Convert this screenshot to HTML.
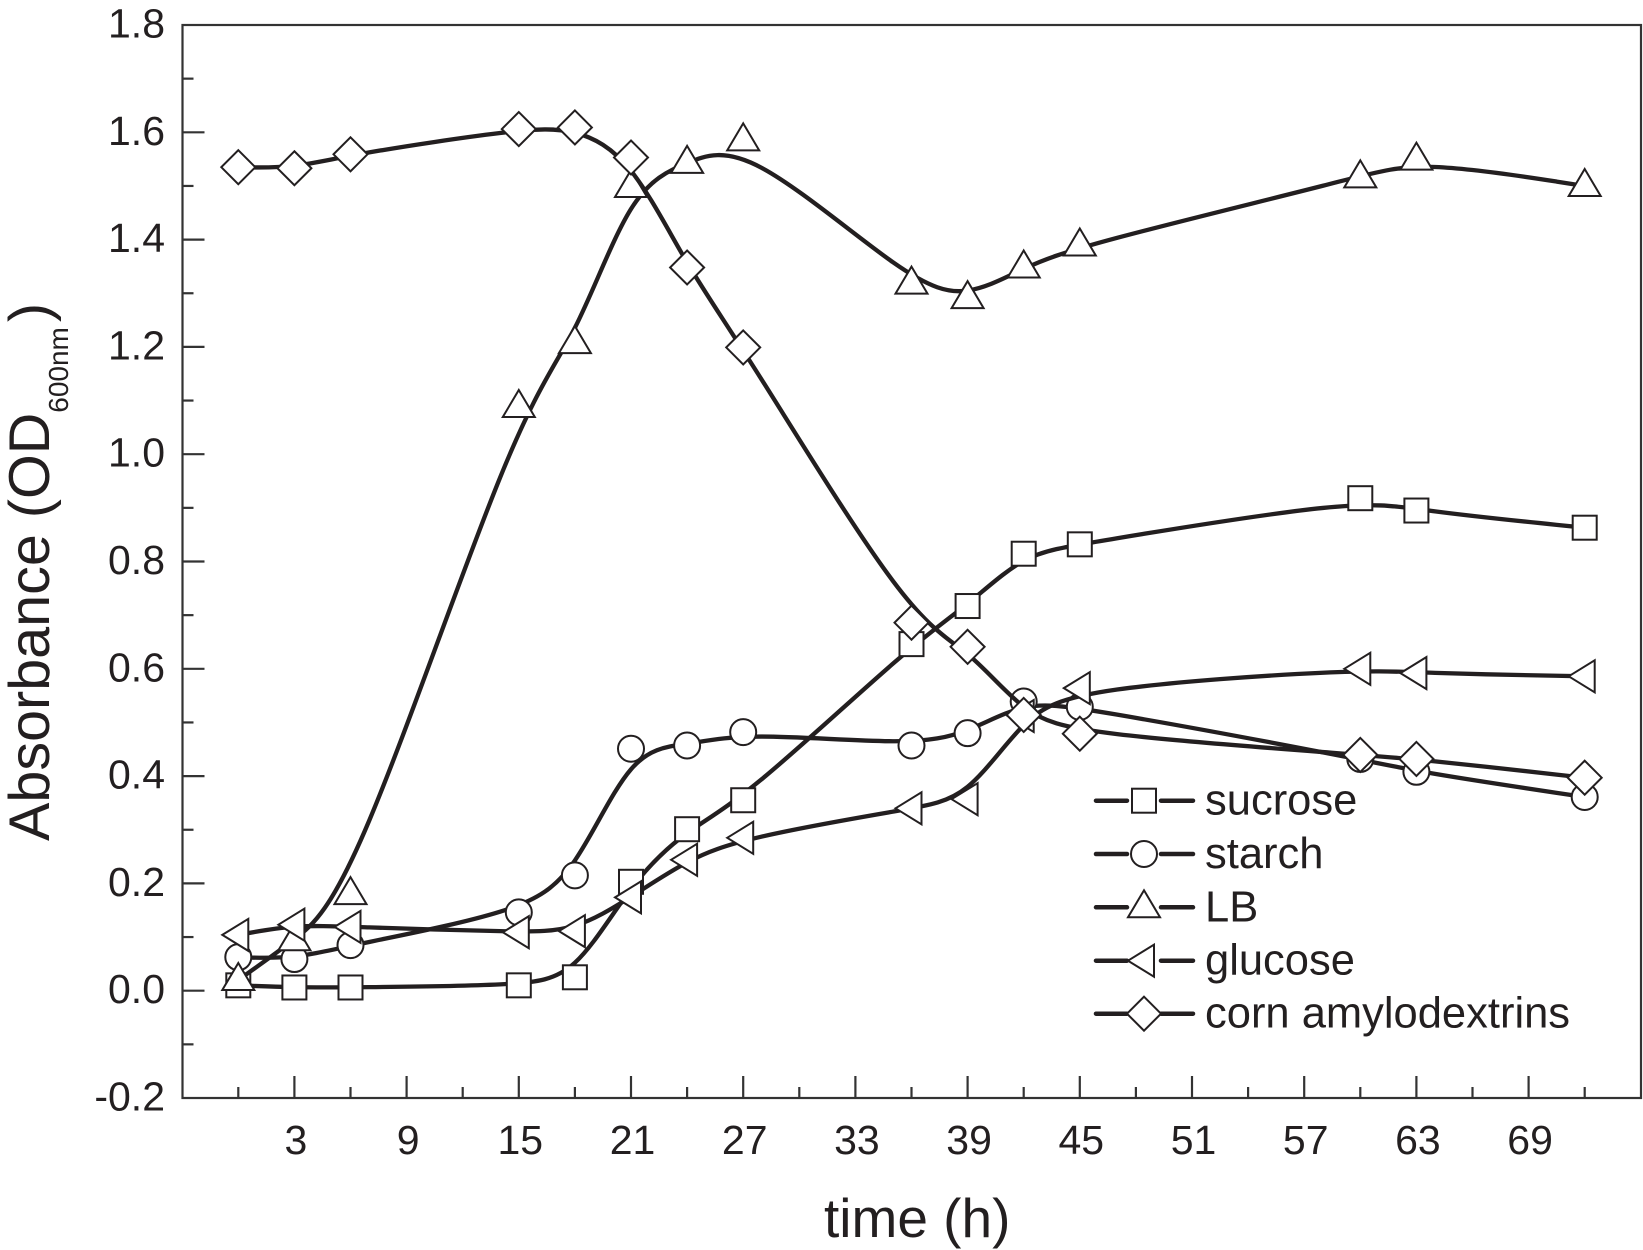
<!DOCTYPE html>
<html lang="en">
<head>
<meta charset="utf-8">
<title>Absorbance over time</title>
<style>
html,body{margin:0;padding:0;background:#fff;}
svg{display:block;}
text{font-family:"Liberation Sans",Arial,sans-serif;fill:#231f20;}
</style>
</head>
<body>
<svg id="chart" xmlns="http://www.w3.org/2000/svg" width="1643" height="1250" viewBox="0 0 1643 1250">
  <rect x="182.5" y="25" width="1458.5" height="1073" fill="none" stroke="#333" stroke-width="2.2"/>
  <g id="axes"></g>
  <g id="series"></g>
  <g id="legend"></g>
  <text x="824" y="1237" font-size="55">time (h)</text>
  <text transform="translate(49,841) rotate(-90)" font-size="57.5">Absorbance (OD<tspan font-size="28" dy="19">600nm</tspan><tspan dy="-19" dx="5">)</tspan></text>
</svg>
<script>
const times = [0, 3, 6, 15, 18, 21, 24, 27, 36, 39, 42, 45, 60, 63, 72];
const sucrose = [0.01, 0.006, 0.006, 0.01, 0.025, 0.203, 0.301, 0.355, 0.646, 0.717, 0.8145, 0.832, 0.918, 0.895, 0.863];
const starch = [0.0625, 0.059, 0.085, 0.146, 0.215, 0.451, 0.457, 0.482, 0.457, 0.48, 0.539, 0.529, 0.432, 0.408, 0.361];
const lb = [0.02, 0.094, 0.18, 1.088, 1.207, 1.498, 1.543, 1.585, 1.318, 1.291, 1.348, 1.389, 1.516, 1.549, 1.5];
const glucose = [0.104, 0.123, 0.119, 0.109, 0.111, 0.174, 0.244, 0.285, 0.34, 0.357, 0.512, 0.564, 0.6, 0.592, 0.586];
const cornAmylodextrins = [1.535, 1.533, 1.559, 1.606, 1.609, 1.553, 1.348, 1.199, 0.686, 0.641, 0.514, 0.479, 0.4395, 0.432, 0.397];
const seriesNames = ["sucrose", "starch", "LB", "glucose", "corn amylodextrins"];
const yTickLabels = ["-0.2", "0.0", "0.2", "0.4", "0.6", "0.8", "1.0", "1.2", "1.4", "1.6", "1.8"];
const xTickLabels = ["3", "9", "15", "21", "27", "33", "39", "45", "51", "57", "63", "69"];
const yMinorTicks = [-0.1, 0.1, 0.3, 0.5, 0.7, 0.9, 1.1, 1.3, 1.5, 1.7];
const xMinorTicks = [0, 6, 12, 18, 24, 30, 36, 42, 48, 54, 60, 66, 72];

const NS = "http://www.w3.org/2000/svg";
const INK = "#231f20";
const xScale = t => 238.3 + t * 18.7;
const yScale = v => 990.7 - v * 536.5;

function make(tag, attrs, parent) {
  const el = document.createElementNS(NS, tag);
  for (const k in attrs) el.setAttribute(k, attrs[k]);
  parent.appendChild(el);
  return el;
}

const axes = document.getElementById("axes");
yTickLabels.forEach(label => {
  const v = parseFloat(label);
  const y = yScale(v);
  if (v > -0.2 && v < 1.8) {
    const tick = make("line", {x1: 182.5, x2: 204.5, y1: y, y2: y, stroke: "#333", "stroke-width": 2.2}, axes);
    
    
  }
  const txt = make("text", {x: 165, y: y + 12.5, "text-anchor": "end", "font-size": 41}, axes);
  
  
  txt.textContent = label;
});
yMinorTicks.forEach(v => {
  const y = yScale(v);
  const tick = make("line", {x1: 182.5, x2: 193.5, y1: y, y2: y, stroke: "#333", "stroke-width": 2.2}, axes);
  
  
});
xTickLabels.forEach(label => {
  const x = xScale(parseFloat(label));
  const tick = make("line", {x1: x, x2: x, y1: 1098, y2: 1076, stroke: "#333", "stroke-width": 2.2}, axes);
  
  
  const txt = make("text", {x: x + 1.5, y: 1154, "text-anchor": "middle", "font-size": 41}, axes);
  
  
  txt.textContent = label;
});
xMinorTicks.forEach(t => {
  const x = xScale(t);
  const tick = make("line", {x1: x, x2: x, y1: 1098, y2: 1087, stroke: "#333", "stroke-width": 2.2}, axes);
  
  
});

function marker(kind, x, y, parent) {
  const s = {fill: "#fff", stroke: INK, "stroke-width": 2, "stroke-linejoin": "miter"};
  if (kind === "square") return make("rect", {...s, x: x - 12, y: y - 12, width: 24, height: 24}, parent);
  if (kind === "circle") return make("circle", {...s, cx: x, cy: y, r: 13}, parent);
  if (kind === "up") return make("polygon", {...s, points: `${x},${y - 17} ${x + 16},${y + 10} ${x - 16},${y + 10}`}, parent);
  if (kind === "left") return make("polygon", {...s, points: `${x - 16},${y} ${x + 10},${y - 16} ${x + 10},${y + 16}`}, parent);
  return make("polygon", {...s, points: `${x},${y - 17} ${x + 17},${y} ${x},${y + 17} ${x - 17},${y}`}, parent);
}

/* uniform cubic B-spline through the data as control points, clamped at both ends */
function splinePath(xs, ys) {
  const px = [xs[0], xs[0], ...xs, xs[xs.length - 1], xs[xs.length - 1]];
  const py = [ys[0], ys[0], ...ys, ys[ys.length - 1], ys[ys.length - 1]];
  let d = `M${xScale(xs[0]).toFixed(2)} ${yScale(ys[0]).toFixed(2)}`;
  for (let i = 1; i < px.length - 2; i++) {
    const c1x = (2 * px[i] + px[i + 1]) / 3, c1y = (2 * py[i] + py[i + 1]) / 3;
    const c2x = (px[i] + 2 * px[i + 1]) / 3, c2y = (py[i] + 2 * py[i + 1]) / 3;
    const ex = (px[i] + 4 * px[i + 1] + px[i + 2]) / 6, ey = (py[i] + 4 * py[i + 1] + py[i + 2]) / 6;
    d += `C${xScale(c1x).toFixed(2)} ${yScale(c1y).toFixed(2)} ${xScale(c2x).toFixed(2)} ${yScale(c2y).toFixed(2)} ${xScale(ex).toFixed(2)} ${yScale(ey).toFixed(2)}`;
  }
  return d;
}

const allValues = [sucrose, starch, lb, glucose, cornAmylodextrins];
const kinds = ["square", "circle", "up", "left", "diamond"];
const seriesRoot = document.getElementById("series");
allValues.forEach((vals, s) => {
  const g = make("g", {}, seriesRoot);
  
  
  const line = make("path", {d: splinePath(times, vals), fill: "none", stroke: INK, "stroke-width": 4.3}, g);
  
  
  vals.forEach((v, i) => {
    const m = marker(kinds[s], xScale(times[i]), yScale(v), g);
    
    
  });
});

const legendRoot = document.getElementById("legend");
const legendYs = [800.7, 854, 907.3, 960.7, 1013.7];
seriesNames.forEach((name, i) => {
  const y = legendYs[i];
  const g = make("g", {}, legendRoot);
  
  
  const a = make("line", {x1: 1096, x2: 1127, y1: y, y2: y, stroke: INK, "stroke-width": 4.5, "stroke-linecap": "round"}, g);
  
  
  const b = make("line", {x1: 1161, x2: 1193, y1: y, y2: y, stroke: INK, "stroke-width": 4.5, "stroke-linecap": "round"}, g);
  
  
  const m = marker(kinds[i], 1144, y, g);
  
  
  const t = make("text", {x: 1205, y: y + 14, "font-size": 43.5}, g);
  
  
  t.textContent = name;
});
</script>
</body>
</html>
